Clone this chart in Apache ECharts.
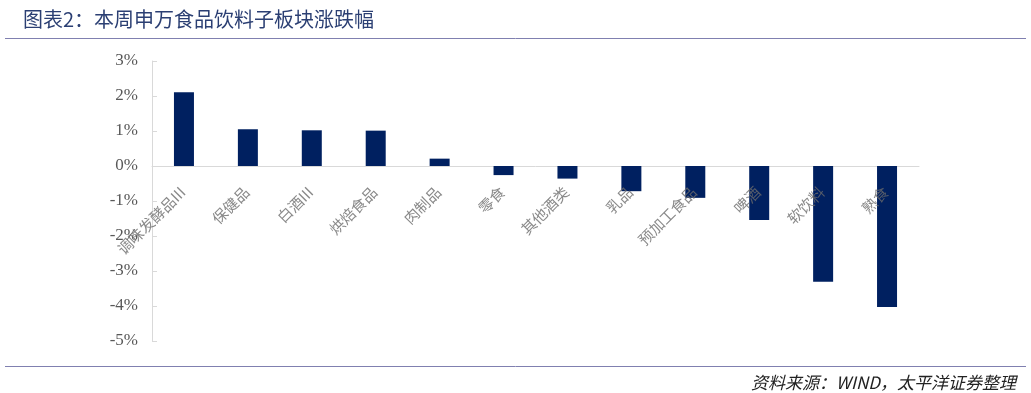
<!DOCTYPE html>
<html><head><meta charset="utf-8">
<script src="https://cdn.jsdelivr.net/npm/echarts@6/dist/echarts.min.js"></script>
<style>html,body{margin:0;padding:0;background:#fff}#c{width:1031px;height:393px}</style>
</head><body><div id="c"></div>
<script>
const categories = ['调味发酵品III','保健品','白酒III','烘焙食品','肉制品','零食','其他酒类','乳品','预加工食品','啤酒','软饮料','熟食'];
const changes = [2.11, 1.05, 1.02, 1.01, 0.21, -0.26, -0.36, -0.72, -0.91, -1.54, -3.31, -4.03];
const titleText = '图表2：本周申万食品饮料子板块涨跌幅';
const sourceText = '资料来源：WIND，太平洋证券整理';

const chart = echarts.init(document.getElementById('c'));
chart.setOption({
  animation: false,
  title: [
    {text: titleText, left: 18, top: 4, textStyle: {fontFamily: 'Noto Sans CJK SC', fontSize: 20, fontWeight: 'normal', color: '#2b3f73'}},
    {text: sourceText, right: 10, top: 369, textStyle: {fontFamily: 'Noto Sans CJK SC', fontSize: 17, fontStyle: 'italic', fontWeight: 'normal', color: '#222'}}
  ],
  graphic: [
    {type: 'line', shape: {x1: 5, y1: 38.5, x2: 1026, y2: 38.5}, style: {stroke: '#8080b0', lineWidth: 1}},
    {type: 'line', shape: {x1: 5, y1: 366.5, x2: 1026, y2: 366.5}, style: {stroke: '#8080b0', lineWidth: 1}}
  ],
  grid: {left: 152, right: 112, top: 61, bottom: 52, outerBoundsMode: 'none', containLabel: false},
  xAxis: {
    type: 'category', data: categories,
    axisLine: {onZero: true, lineStyle: {color: '#d9d9d9'}},
    axisTick: {show: false},
    axisLabel: {show: false}
  },
  yAxis: {
    type: 'value', min: -5, max: 3, interval: 1,
    axisLine: {show: true, lineStyle: {color: '#d9d9d9'}},
    axisTick: {show: true, inside: true, length: 5, lineStyle: {color: '#d9d9d9'}},
    splitLine: {show: false},
    axisLabel: {formatter: v => v + '%', fontFamily: 'Liberation Serif', fontSize: 17, color: '#595959', margin: 14}
  },
  series: [{
    type: 'bar', data: changes, barWidth: 20,
    itemStyle: {color: '#002060'}
  }, {
    type: 'scatter', data: categories.map(c => [c, 0]), symbolSize: 0, silent: true, z: 5,
    label: {show: true, position: 'bottom', distance: 22, offset: [-2, 0], rotate: 45, align: 'right', verticalAlign: 'middle',
      formatter: p => p.data[0], fontFamily: 'Noto Sans CJK SC', fontSize: 15, color: '#6b6b6b'}
  }]
});
</script></body></html>
